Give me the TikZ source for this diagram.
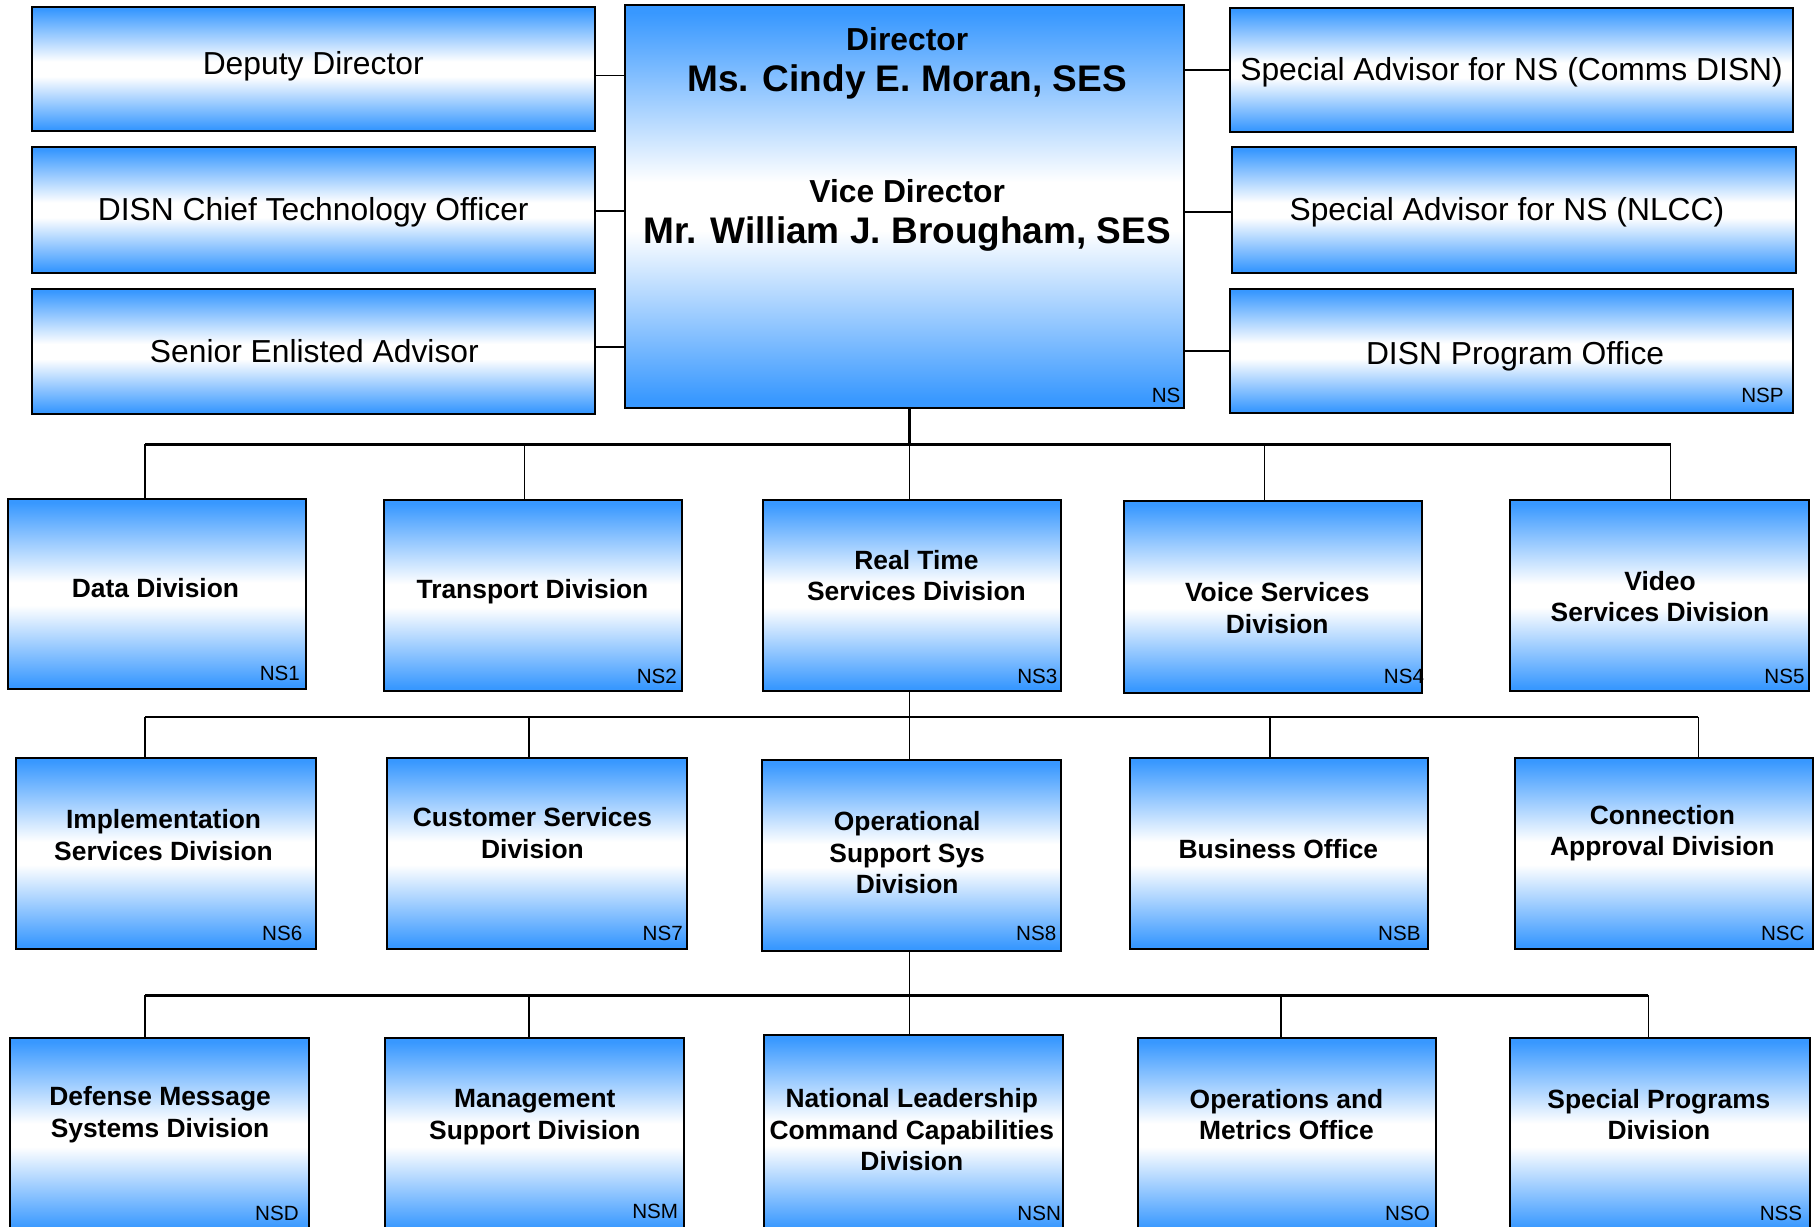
\documentclass[tikz,border=0pt]{standalone}
\usepackage{fontspec}
\setmainfont{Liberation Sans}
\usetikzlibrary{fit,calc}
\definecolor{boxblue}{RGB}{56,152,255}
\pgfdeclareverticalshading{bluewhite}{100bp}{color(0bp)=(boxblue); color(26bp)=(boxblue); color(47bp)=(white); color(53bp)=(white); color(74bp)=(boxblue); color(100bp)=(boxblue)}
\tikzset{
  box/.style={draw=black, line width=1pt, shading=bluewhite, inner sep=0pt},
  bus/.style={line width=1.3pt},
  drop/.style={line width=0.8pt},
  lbl/.style={font=\fontsize{15.9}{19}\selectfont, align=center, inner sep=0pt},
  dirsmall/.style={font=\fontsize{15.9}{19}\selectfont\bfseries, inner sep=0pt},
  dirbig/.style={font=\fontsize{18.5}{22}\selectfont\bfseries, inner sep=0pt},
  divlbl/.style={font=\fontsize{13.2}{15.7}\selectfont\bfseries, align=center, inner sep=0pt},
  code/.style={font=\fontsize{10.3}{12}\selectfont, anchor=east, inner sep=0pt},
}
\begin{document}
\begin{tikzpicture}[x=0.58pt,y=-0.58pt]
\path[fill=white,use as bounding box] (0,0) rectangle (1568,1057);

% ---- top level boxes ----
\node[box, fit={(28,6)(513,113)}] (dep) {};
\node[box, fit={(28,127)(513,235)}] (cto) {};
\node[box, fit={(28,249)(513,357)}] (sea) {};
\node[box, fit={(539,4)(1021,352)}] (dir) {};
\node[box, fit={(1060,7)(1546,114)}] (sac) {};
\node[box, fit={(1062,127)(1548,235)}] (san) {};
\node[box, fit={(1060,249)(1546,356)}] (spo) {};

\node[lbl] (depT) at (270,57) {Deputy Director};
\node[lbl] (ctoT) at (270,183) {DISN Chief Technology Officer};
\node[lbl] (seaT) at (271,303) {Senior Enlisted Advisor};
\node[lbl] (sacT) at (1303,62) {Special Advisor for NS (Comms DISN)};
\node[lbl] (sanT) at (1299,183) {Special Advisor for NS (NLCC)};
\node[lbl] (spoT) at (1306,307) {DISN Program Office};

\node[dirsmall] (dirA) at (782,34) {Director};
\node[dirbig] (dirB) at (782,71) {Ms. Cindy E. Moran, SES};
\node[dirsmall] (dirC) at (782,165) {Vice Director};
\node[dirbig] (dirD) at (782,202) {Mr. William J. Brougham, SES};
\node[code] (dirCode) at ($(dir.south east)+(-4,-12)$) {NS};
\node[code] (spoCode) at ($(spo.south east)+(-9,-16)$) {NSP};

\draw[drop] ($(dep.east)+(0,5.5)$) -- ($(dep.east -| dir.west)+(0,5.5)$);
\draw[drop] ($(cto.east)+(0,1)$) -- ($(cto.east -| dir.west)+(0,1)$);
\draw[drop] ($(sea.east)+(0,-4)$) -- ($(sea.east -| dir.west)+(0,-4)$);
\draw[drop] (sac.west) -- (sac.west -| dir.east);
\draw[drop] ($(san.west)+(0,2)$) -- ($(san.west -| dir.east)+(0,2)$);
\draw[drop] (spo.west) -- (spo.west -| dir.east);

% ---- row 1 ----
\node[box, fit={(7,430)(264,594)}] (d1) {};
\node[box, fit={(331,431)(588,596)}] (d2) {};
\node[box, fit={(658,431)(915,596)}] (d3) {};
\node[box, fit={(969,432)(1226,597)}] (d4) {};
\node[box, fit={(1302,431)(1559,596)}] (d5) {};

\node[divlbl] (t1) at (134,507) {Data Division};
\node[divlbl] (t2) at (459,510) {Transport Division};
\node[divlbl] (t3) at (790,496) {Real Time\\Services Division};
\node[divlbl] (t4) at (1101,524) {Voice Services\\Division};
\node[divlbl] (t5) at (1431,514) {Video\\Services Division};

\node[code] (k1) at ($(d1.south east)+(-6,-14)$) {NS1};
\node[code] (k2) at ($(d2.south east)+(-5,-14)$) {NS2};
\node[code] (k3) at ($(d3.south east)+(-4,-14)$) {NS3};
\node[code] (k4) at ($(d4.south east)+(1,-15)$) {NS4};
\node[code] (k5) at ($(d5.south east)+(-4,-14)$) {NS5};

\coordinate (a1) at (125,383);
\coordinate (a2) at (452,383);
\coordinate (a3) at (784,383);
\coordinate (a4) at (1090,383);
\coordinate (a5) at (1440,383);
\draw[bus] (dir.south -| a3) -- (a3);
\draw[bus] (a1) -- (a5);
\draw[drop] (a1) -- (a1 |- d1.north);
\draw[drop] (a2) -- (a2 |- d2.north);
\draw[drop] (a3) -- (a3 |- d3.north);
\draw[drop] (a4) -- (a4 |- d4.north);
\draw[drop] (a5) -- (a5 |- d5.north);

% ---- row 2 ----
\node[box, fit={(14,653)(272,818)}] (d6) {};
\node[box, fit={(334,653)(592,818)}] (d7) {};
\node[box, fit={(657,655)(915,820)}] (d8) {};
\node[box, fit={(974,653)(1231,818)}] (dB) {};
\node[box, fit={(1306,653)(1563,818)}] (dC) {};

\node[divlbl] (t6) at (141,720) {Implementation\\Services Division};
\node[divlbl] (t7) at (459,718) {Customer Services\\Division};
\node[divlbl] (t8) at (782,735) {Operational\\Support Sys\\Division};
\node[divlbl] (tB) at (1102,732) {Business Office};
\node[divlbl] (tC) at (1433,718) {Connection\\Approval Division};

\node[code] (k6) at ($(d6.south east)+(-12,-14)$) {NS6};
\node[code] (k7) at ($(d7.south east)+(-4,-14)$) {NS7};
\node[code] (k8) at ($(d8.south east)+(-5,-16)$) {NS8};
\node[code] (kB) at ($(dB.south east)+(-7,-14)$) {NSB};
\node[code] (kC) at ($(dC.south east)+(-8,-14)$) {NSC};

\coordinate (b1) at (125,618);
\coordinate (b2) at (456,618);
\coordinate (b3) at (784,618);
\coordinate (b4) at (1095,618);
\coordinate (b5) at (1464,618);
\draw[drop] (d3.south -| b3) -- (b3);
\draw[bus] (b1) -- (b5);
\draw[drop] (b1) -- (b1 |- d6.north);
\draw[drop] (b2) -- (b2 |- d7.north);
\draw[drop] (b3) -- (b3 |- d8.north);
\draw[drop] (b4) -- (b4 |- dB.north);
\draw[drop] (b5) -- (b5 |- dC.north);

% ---- row 3 ----
\node[box, fit={(9,895)(266,1062)}] (dD) {};
\node[box, fit={(332,895)(590,1062)}] (dM) {};
\node[box, fit={(659,892)(916,1062)}] (dN) {};
\node[box, fit={(981,895)(1238,1062)}] (dO) {};
\node[box, fit={(1302,895)(1560,1062)}] (dS) {};

\node[divlbl] (tD) at (138,961) {Defense Message\\Systems Division};
\node[divlbl] (tM) at (461,963) {Management\\Support Division};
\node[divlbl] (tN) at (786,974) {National Leadership\\Command Capabilities\\Division};
\node[divlbl] (tO) at (1109,961) {Operations and\\Metrics Office};
\node[divlbl] (tS) at (1430,961) {Special Programs\\Division};

\node[code] (kD) at ($(dD.south east)+(-9,-17)$) {NSD};
\node[code] (kM) at ($(dM.south east)+(-6,-19)$) {NSM};
\node[code] (kN) at ($(dN.south east)+(-2,-17)$) {NSN};
\node[code] (kO) at ($(dO.south east)+(-6,-17)$) {NSO};
\node[code] (kS) at ($(dS.south east)+(-7,-17)$) {NSS};

\coordinate (c1) at (125,858);
\coordinate (c2) at (456,858);
\coordinate (c3) at (784,858);
\coordinate (c4) at (1104,858);
\coordinate (c5) at (1421,858);
\draw[drop] (d8.south -| c3) -- (c3);
\draw[bus] (c1) -- (c5);
\draw[drop] (c1) -- (c1 |- dD.north);
\draw[drop] (c2) -- (c2 |- dM.north);
\draw[drop] (c3) -- (c3 |- dN.north);
\draw[drop] (c4) -- (c4 |- dO.north);
\draw[drop] (c5) -- (c5 |- dS.north);
\end{tikzpicture}
\end{document}
